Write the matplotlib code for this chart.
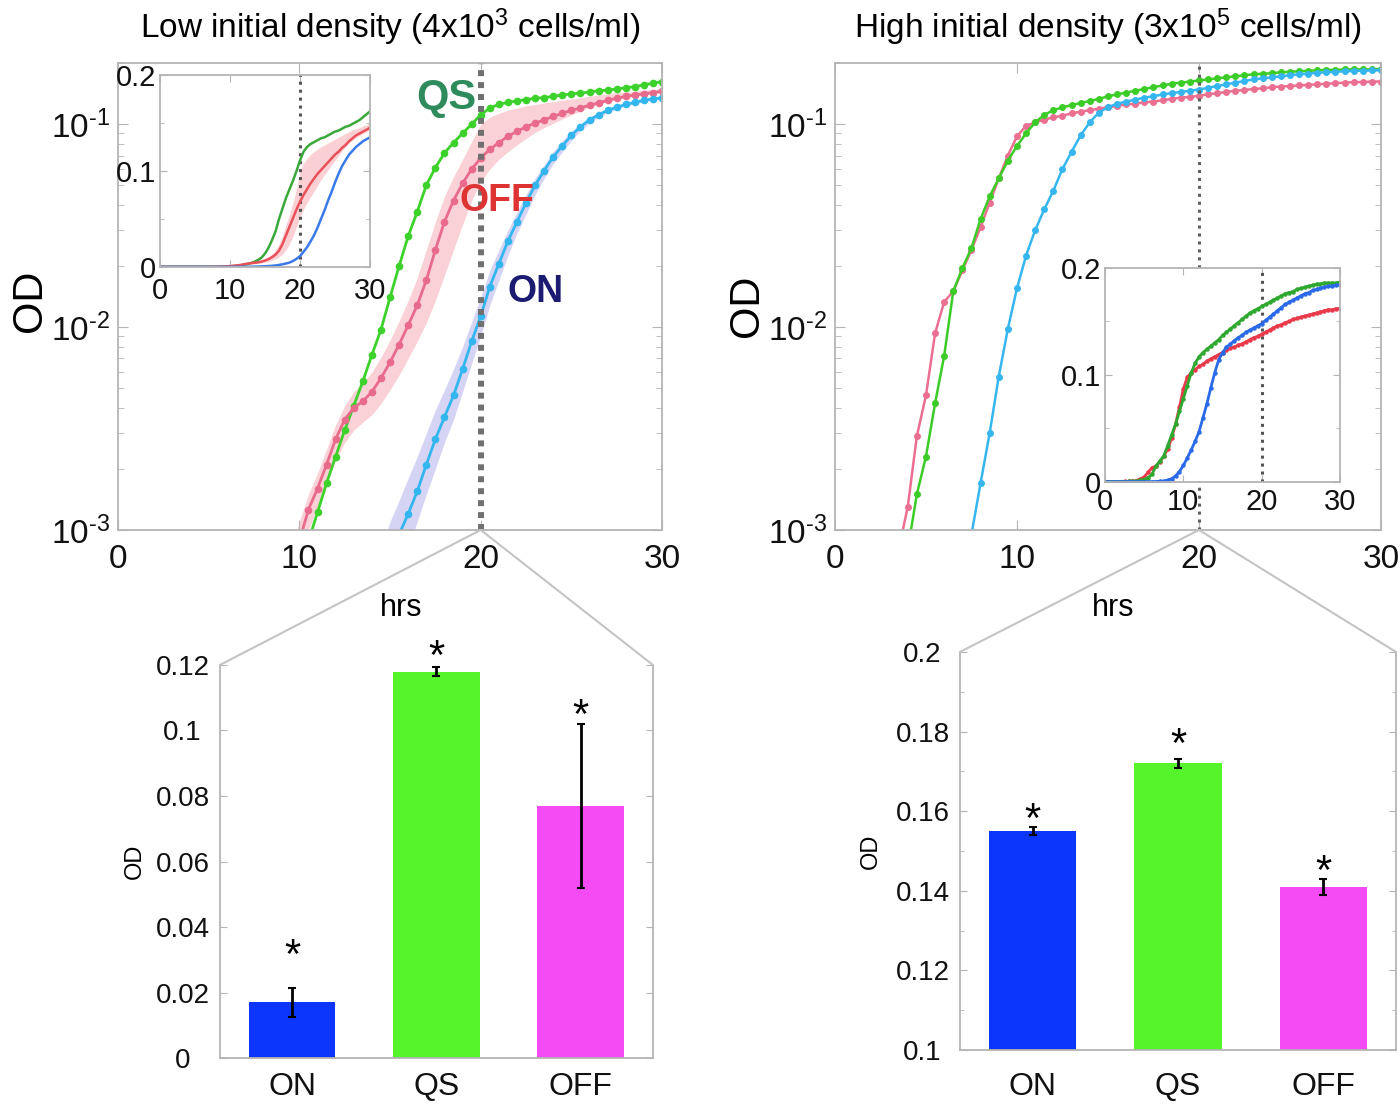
import numpy as np
import matplotlib.pyplot as plt
from matplotlib.patches import ConnectionPatch
from matplotlib.ticker import FixedLocator, MultipleLocator, LogLocator, NullFormatter, FuncFormatter

plt.rcParams['font.family'] = ['Liberation Sans', 'DejaVu Sans']
plt.rcParams['mathtext.fontset'] = 'custom'
plt.rcParams['mathtext.rm'] = 'Liberation Sans'
plt.rcParams['mathtext.it'] = 'Liberation Sans:italic'
plt.rcParams['mathtext.bf'] = 'Liberation Sans:bold'

hrs = np.arange(0, 30.5, 0.5)  # sampling times (h)

# ---- low initial density, OD ----
low_qs = [0.0002]*10 + \
    [0.0002, 0.0002, 0.0002, 0.0002, 0.0002, 0.00022, 0.00025, 0.0003, 0.00036, 0.00046] + \
    [0.0006, 0.00088, 0.00122, 0.0017, 0.0023, 0.0031, 0.0041, 0.0054, 0.0073, 0.0097] + \
    [0.014, 0.020, 0.028, 0.037, 0.050, 0.061, 0.072, 0.081, 0.090, 0.100] + \
    [0.111, 0.120, 0.125, 0.128, 0.130, 0.132, 0.134, 0.135, 0.137, 0.139] + \
    [0.141, 0.142, 0.144, 0.146, 0.147, 0.149, 0.151, 0.153, 0.156, 0.159] + [0.162]
low_off = [0.0002]*10 + \
    [0.0002, 0.0002, 0.0002, 0.0002, 0.0002, 0.00025, 0.0003, 0.00038, 0.0005, 0.00065] + \
    [0.00088, 0.00126, 0.0016, 0.0021, 0.0028, 0.0035, 0.0040, 0.0043, 0.0048, 0.0056] + \
    [0.0067, 0.0082, 0.0102, 0.0128, 0.0170, 0.0240, 0.033, 0.042, 0.051, 0.060] + \
    [0.068, 0.075, 0.081, 0.087, 0.092, 0.097, 0.101, 0.105, 0.109, 0.113] + \
    [0.117, 0.120, 0.124, 0.127, 0.131, 0.134, 0.137, 0.139, 0.141, 0.143] + [0.145]
low_off_lo = [0.00015]*10 + \
    [0.00015, 0.00015, 0.00015, 0.00015, 0.00015, 0.0002, 0.00024, 0.0003, 0.0004, 0.0005] + \
    [0.0007, 0.0010, 0.0013, 0.0017, 0.0022, 0.0027, 0.0031, 0.0034, 0.0037, 0.0042] + \
    [0.0049, 0.0058, 0.0070, 0.0085, 0.0105, 0.0135, 0.018, 0.024, 0.032, 0.042] + \
    [0.052, 0.060, 0.067, 0.073, 0.079, 0.085, 0.091, 0.096, 0.101, 0.106] + \
    [0.111, 0.116, 0.121, 0.125, 0.129, 0.132, 0.135, 0.137, 0.139, 0.141] + [0.143]
low_off_hi = [0.00025]*10 + \
    [0.00025, 0.00025, 0.00025, 0.00025, 0.00025, 0.0003, 0.00036, 0.00046, 0.0006, 0.0008] + \
    [0.0011, 0.0015, 0.0019, 0.0025, 0.0033, 0.0041, 0.0048, 0.0053, 0.0060, 0.0071] + \
    [0.0086, 0.0107, 0.0135, 0.0175, 0.024, 0.033, 0.044, 0.055, 0.067, 0.082] + \
    [0.100, 0.108, 0.113, 0.117, 0.120, 0.123, 0.125, 0.127, 0.129, 0.131] + \
    [0.133, 0.135, 0.137, 0.139, 0.141, 0.143, 0.144, 0.145, 0.147, 0.148] + [0.150]
low_on = [0.0001]*20 + \
    [0.0001, 0.00012, 0.00014, 0.00016, 0.00019, 0.00023, 0.00028, 0.00035, 0.00045, 0.0006] + \
    [0.00075, 0.00095, 0.0012, 0.00155, 0.0021, 0.0028, 0.0036, 0.0046, 0.0062, 0.0085] + \
    [0.0113, 0.0158, 0.0205, 0.0265, 0.033, 0.041, 0.050, 0.059, 0.069, 0.078] + \
    [0.088, 0.097, 0.105, 0.111, 0.117, 0.121, 0.125, 0.128, 0.131, 0.133] + [0.135]
low_on_lo = [0.00008]*20 + \
    [0.00008, 0.00009, 0.0001, 0.00012, 0.00014, 0.00017, 0.0002, 0.00025, 0.0003, 0.0004] + \
    [0.0005, 0.0006, 0.0008, 0.0011, 0.0015, 0.0020, 0.0027, 0.0035, 0.0048, 0.0066] + \
    [0.0090, 0.0128, 0.0170, 0.0225, 0.029, 0.036, 0.045, 0.054, 0.064, 0.073] + \
    [0.083, 0.093, 0.101, 0.108, 0.114, 0.119, 0.123, 0.126, 0.129, 0.131] + [0.133]
low_on_hi = [0.00012]*20 + \
    [0.00012, 0.00015, 0.00018, 0.00021, 0.00025, 0.0003, 0.00037, 0.00047, 0.0006, 0.0008] + \
    [0.0011, 0.0014, 0.0018, 0.0023, 0.0030, 0.0039, 0.0049, 0.0062, 0.0080, 0.0106] + \
    [0.0140, 0.019, 0.024, 0.030, 0.037, 0.045, 0.054, 0.063, 0.073, 0.083] + \
    [0.092, 0.100, 0.108, 0.114, 0.119, 0.123, 0.127, 0.130, 0.133, 0.135] + [0.137]

# ---- high initial density ----
high_off = [0.0003, 0.0003, 0.0003, 0.0003, 0.0004, 0.0005, 0.0006, 0.0008, 0.0013, 0.0029] + \
    [0.0046, 0.0093, 0.0133, 0.0150, 0.0190, 0.0240, 0.031, 0.041, 0.054, 0.070] + \
    [0.087, 0.098, 0.102, 0.105, 0.108, 0.110, 0.113, 0.115, 0.117, 0.119] + \
    [0.121, 0.123, 0.125, 0.126, 0.128, 0.129, 0.131, 0.133, 0.135, 0.136] + \
    [0.138, 0.140, 0.142, 0.144, 0.146, 0.147, 0.149, 0.150, 0.152, 0.153] + \
    [0.154, 0.155, 0.156, 0.157, 0.158, 0.159, 0.160, 0.161, 0.161, 0.162] + [0.162]
high_qs = [0.0003, 0.0003, 0.0003, 0.0003, 0.0003, 0.0004, 0.0005, 0.0006, 0.0008, 0.0015] + \
    [0.0023, 0.0042, 0.0072, 0.0150, 0.0195, 0.0245, 0.034, 0.044, 0.054, 0.066] + \
    [0.078, 0.090, 0.102, 0.111, 0.117, 0.121, 0.124, 0.127, 0.130, 0.133] + \
    [0.137, 0.140, 0.143, 0.146, 0.149, 0.152, 0.155, 0.158, 0.160, 0.162] + \
    [0.164, 0.166, 0.168, 0.170, 0.172, 0.174, 0.176, 0.177, 0.178, 0.180] + \
    [0.181, 0.182, 0.183, 0.184, 0.185, 0.185, 0.186, 0.186, 0.186, 0.186] + [0.187]
high_on = [0.0002]*10 + \
    [0.0002, 0.00025, 0.0003, 0.0004, 0.0006, 0.00095, 0.0017, 0.0030, 0.0057, 0.0098] + \
    [0.0155, 0.0225, 0.030, 0.038, 0.047, 0.060, 0.073, 0.088, 0.102, 0.114] + \
    [0.121, 0.126, 0.129, 0.132, 0.135, 0.137, 0.140, 0.142, 0.144, 0.146] + \
    [0.148, 0.151, 0.154, 0.157, 0.160, 0.163, 0.166, 0.168, 0.170, 0.172] + \
    [0.174, 0.176, 0.177, 0.179, 0.180, 0.181, 0.182, 0.183, 0.183, 0.184] + [0.184]

# ---- OD at 20 h (bar charts) ----
strains = ['ON', 'QS', 'OFF']
bar_low = [0.017, 0.118, 0.077]
err_low = [0.0045, 0.0015, 0.025]
star_low = [0.031, 0.122, 0.104]
bar_high = [0.155, 0.172, 0.141]
err_high = [0.001, 0.0012, 0.002]
star_high = [0.1575, 0.1765, 0.1445]

bar_cols = ['#0c36fb', '#55f42b', '#f44bf4']
frame = '#b4b4b4'

fig = plt.figure(figsize=(14, 11.05), dpi=100)


def frame_style(ax, top=True):
    for s in ax.spines.values():
        s.set_color(frame)
        s.set_linewidth(1.3)
    ax.tick_params(which='both', direction='in', top=top, right=True,
                   colors=frame, labelcolor='#111111')


def main_axes(ax, title):
    ax.set_yscale('log')
    ax.set_xlim(0, 30)
    ax.set_ylim(1e-3, 0.2)
    ax.xaxis.set_major_locator(FixedLocator([0, 10, 20, 30]))
    ax.yaxis.set_major_locator(FixedLocator([1e-3, 1e-2, 1e-1]))
    ax.set_yticklabels([r'$\mathregular{10^{\text{-}3}}$', r'$\mathregular{10^{\text{-}2}}$',
                        r'$\mathregular{10^{\text{-}1}}$'])
    ax.yaxis.set_minor_locator(LogLocator(subs=np.arange(2, 10)))
    ax.yaxis.set_minor_formatter(NullFormatter())
    frame_style(ax)
    ax.tick_params(axis='both', which='major', labelsize=24, length=7)
    ax.tick_params(axis='x', pad=10)
    ax.tick_params(axis='y', pad=6)
    ax.tick_params(which='minor', length=4)
    ax.set_title(title, fontsize=24, pad=18)
    ax.set_ylabel('OD', fontsize=30)
    ax.set_xlabel('hrs', fontsize=22)


# ---------------- top left ----------------
ax1 = fig.add_axes([0.0843, 0.5204, 0.3886, 0.4226])
main_axes(ax1, r'Low initial density (4x$\mathregular{10^{3}}$ cells/ml)')
ax1.yaxis.set_label_coords(-0.125, 0.49)
ax1.xaxis.set_label_coords(0.52, -0.135)
ax1.fill_between(hrs, low_off_lo, low_off_hi, color='#f9c6cc', alpha=0.8, lw=0)
ax1.fill_between(hrs, low_on_lo, low_on_hi, color='#cccaf2', alpha=0.8, lw=0)
ax1.plot(hrs, low_qs, color='#3dd22b', lw=2, marker='o', ms=4.5)
ax1.plot(hrs, low_off, color='#e96b8c', lw=2, marker='o', ms=4.5)
ax1.plot(hrs, low_on, color='#33b6ee', lw=2, marker='o', ms=4.5)
ax1.axvline(20, color='#707070', lw=4.3, ls=(0, (1, 1)))
ax1.text(18.1, 0.134, 'QS', color='#2e8b5c', fontsize=30, fontweight='bold', ha='center', va='center')
ax1.text(20.9, 0.042, 'OFF', color='#dd3333', fontsize=27, fontweight='bold', ha='center', va='center')
ax1.text(23.0, 0.0148, 'ON', color='#1b1b72', fontsize=27, fontweight='bold', ha='center', va='center')

# ---------------- top right ----------------
ax2 = fig.add_axes([0.5964, 0.5204, 0.39, 0.4226])
main_axes(ax2, r'High initial density (3x$\mathregular{10^{5}}$ cells/ml)')
ax2.yaxis.set_label_coords(-0.125, 0.48)
ax2.xaxis.set_label_coords(0.509, -0.135)
ax2.plot(hrs, high_off, color='#ea6f90', lw=1.8, marker='o', ms=4)
ax2.plot(hrs, high_qs, color='#3ccc28', lw=1.8, marker='o', ms=4)
ax2.plot(hrs, high_on, color='#36b6ee', lw=1.8, marker='o', ms=4)
ax2.axvline(20, color='#606060', lw=2.2, ls=(0, (1, 1.6)))


def inset_axes(ax, xpad):
    ax.set_xlim(0, 30)
    ax.set_ylim(0, 0.2)
    ax.xaxis.set_major_locator(FixedLocator([0, 10, 20, 30]))
    ax.yaxis.set_major_locator(FixedLocator([0, 0.1, 0.2]))
    ax.set_yticklabels(['0', '0.1', '0.2'])
    ax.yaxis.set_minor_locator(MultipleLocator(0.05))
    frame_style(ax)
    ax.tick_params(axis='both', which='major', labelsize=21, length=5, pad=3)
    ax.tick_params(axis='x', pad=xpad)
    ax.tick_params(which='minor', length=3)
    ax.axvline(20, color='#555555', lw=2.2, ls=(0, (1, 1.6)))


# ---------------- insets (linear scale) ----------------
in1 = fig.add_axes([0.1143, 0.7584, 0.15, 0.1738])
inset_axes(in1, 7)
in1.fill_between(hrs, low_off_lo, low_off_hi, color='#fbd0d4', lw=0)
in1.plot(hrs, low_qs, color='#3aa83a', lw=1.8)
in1.plot(hrs, low_off, color='#e8505a', lw=1.8)
in1.plot(hrs, low_on, color='#3a7ae8', lw=1.8)

in2 = fig.add_axes([0.7893, 0.5638, 0.1679, 0.1937])
inset_axes(in2, 4)
in2.plot(hrs, high_off, color='#e83a4a', lw=2, marker='o', ms=2.2)
in2.plot(hrs, high_qs, color='#2ea82e', lw=2, marker='o', ms=2.2)
in2.plot(hrs, high_on, color='#2a6ae8', lw=2, marker='o', ms=2.2)


# ---------------- bar charts ----------------
def bar_axes(ax, vals, errs, stars, ylim, step, xpad):
    pos = np.arange(1, 4)
    ax.bar(pos, vals, width=0.6, color=bar_cols, yerr=errs,
           error_kw=dict(ecolor='black', elinewidth=2, capsize=3, capthick=1.5))
    for p, s in zip(pos, stars):
        ax.text(p, s, '*', ha='center', va='center', fontsize=30)
    ax.set_xlim(0.5, 3.5)
    ax.set_ylim(*ylim)
    ax.set_xticks(pos)
    ax.set_xticklabels(strains)
    ax.yaxis.set_major_locator(MultipleLocator(0.02))
    ax.yaxis.set_major_formatter(FuncFormatter(lambda v, p: '%g' % round(v, 3)))
    if step:
        ax.yaxis.set_minor_locator(MultipleLocator(step))
    ax.spines['top'].set_visible(False)
    frame_style(ax, top=False)
    ax.tick_params(axis='x', length=0, labelsize=23, pad=xpad)
    ax.tick_params(axis='y', which='major', labelsize=20, length=5, pad=27)
    ax.tick_params(axis='y', which='minor', length=3)
    for lab in ax.get_yticklabels():
        lab.set_horizontalalignment('center')
    ax.set_ylabel('OD', fontsize=17)


b1 = fig.add_axes([0.1571, 0.0425, 0.3093, 0.3557])
bar_axes(b1, bar_low, err_low, star_low, (0, 0.12), None, 10)
b1.yaxis.set_label_coords(-0.17, 0.5)

b2 = fig.add_axes([0.6857, 0.0498, 0.3114, 0.3602])
bar_axes(b2, bar_high, err_high, star_high, (0.1, 0.2), 0.01, 16)
b2.yaxis.set_label_coords(-0.18, 0.5)

# zoom lines from the 20 h mark down to the bar charts
for ax_m, ax_b in [(ax1, b1), (ax2, b2)]:
    for corner in [(0, 1), (1, 1)]:
        con = ConnectionPatch(xyA=(20, 1e-3), coordsA=ax_m.transData,
                              xyB=corner, coordsB=ax_b.transAxes,
                              color='#c4c4c4', lw=1.5)
        fig.add_artist(con)

fig.savefig('out.png', dpi=100)
